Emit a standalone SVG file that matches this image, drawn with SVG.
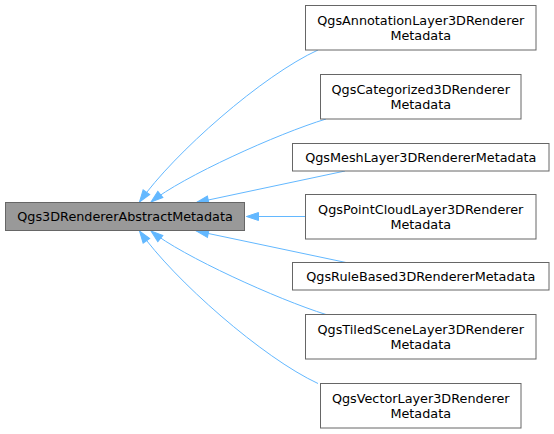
<svg xmlns="http://www.w3.org/2000/svg" width="554" height="434" viewBox="0 0 554 434">
<style>
.node rect{fill:#ffffff;stroke:#666666;stroke-width:1}
#main rect{fill:#999999}
text{font-family:"DejaVu Sans","Liberation Sans",sans-serif;font-size:12.8px;fill:#000000;text-anchor:middle}
.edge{fill:none;stroke:#63b8ff;stroke-width:1;marker-end:url(#arr)}
</style>
<defs>
<marker id="arr" markerUnits="userSpaceOnUse" markerWidth="14" markerHeight="10" refX="12" refY="4" orient="auto" overflow="visible">
<polygon points="0,0 12,4 0,8" fill="#63b8ff" stroke="#63b8ff" stroke-width="1"/>
</marker>
</defs>
<rect width="554" height="434" fill="#ffffff"/>
<g id="connectors">
<path class="edge" d="M318,50 C263,75 174,153 139.5,202"/>
<path class="edge" d="M326,119 C278,133.5 182,177 151,202"/>
<path class="edge" d="M345,171 L196.5,202.5"/>
<path class="edge" d="M305.5,216.5 L246.5,216.5"/>
<path class="edge" d="M346,262.5 L196.5,231"/>
<path class="edge" d="M326,314.5 C278,299.5 182,256 151,231"/>
<path class="edge" d="M318,383.5 C263,358 174,280 139.5,231"/>
</g>
<g id="main" class="node">
<rect x="5.5" y="202.5" width="239" height="28"/>
<text x="125" y="221">Qgs3DRendererAbstractMetadata</text>
</g>
<g id="annotation" class="node">
<rect x="305.5" y="5.5" width="230.5" height="44.5"/>
<text x="420.75" y="24.5">QgsAnnotationLayer3DRenderer</text>
<text x="420.75" y="39.5">Metadata</text>
</g>
<g id="categorized" class="node">
<rect x="320.5" y="74.5" width="200.5" height="44.5"/>
<text x="420.75" y="93.5">QgsCategorized3DRenderer</text>
<text x="420.75" y="108.5">Metadata</text>
</g>
<g id="mesh" class="node">
<rect x="292.5" y="143.5" width="256.5" height="27.5"/>
<text x="420.75" y="161.5">QgsMeshLayer3DRendererMetadata</text>
</g>
<g id="pointcloud" class="node">
<rect x="305.5" y="194.5" width="230.5" height="44.5"/>
<text x="420.75" y="213.5">QgsPointCloudLayer3DRenderer</text>
<text x="420.75" y="228.5">Metadata</text>
</g>
<g id="rulebased" class="node">
<rect x="292.5" y="262.5" width="256.5" height="27.5"/>
<text x="420.75" y="280.5">QgsRuleBased3DRendererMetadata</text>
</g>
<g id="tiledscene" class="node">
<rect x="305.5" y="314.5" width="230.5" height="44.5"/>
<text x="420.75" y="333.5">QgsTiledSceneLayer3DRenderer</text>
<text x="420.75" y="348.5">Metadata</text>
</g>
<g id="vector" class="node">
<rect x="320.5" y="383.5" width="200.5" height="44.5"/>
<text x="420.75" y="402.5">QgsVectorLayer3DRenderer</text>
<text x="420.75" y="417.5">Metadata</text>
</g>
</svg>
